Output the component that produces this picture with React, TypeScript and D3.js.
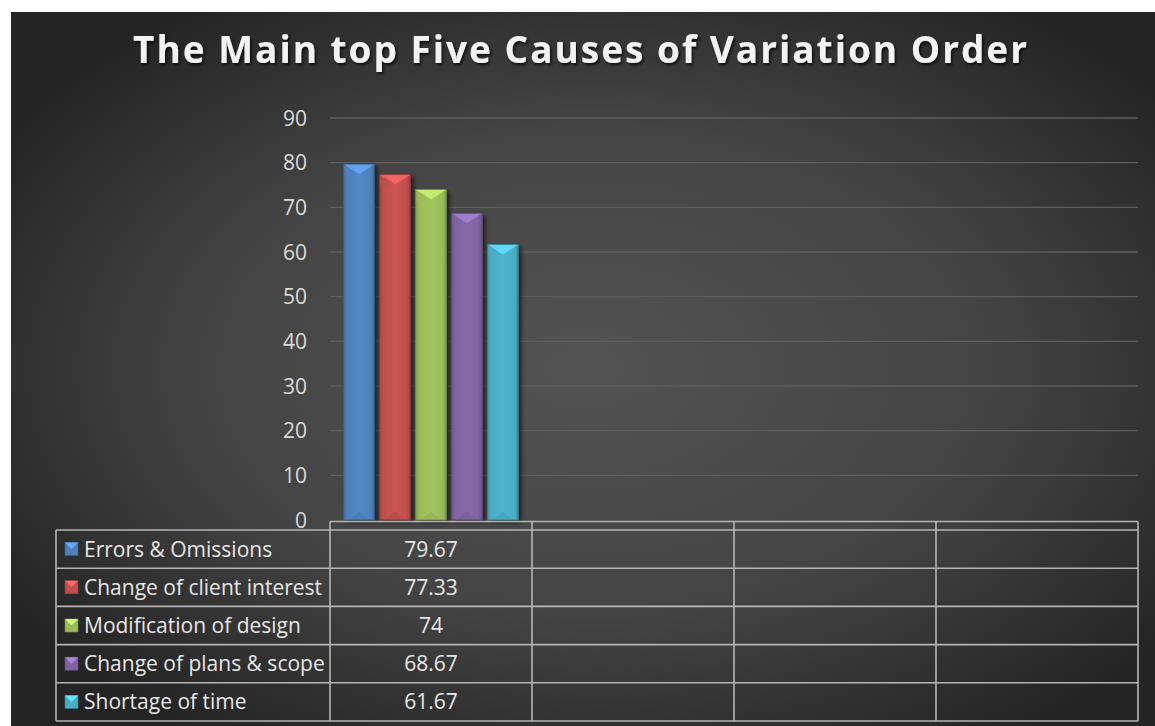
import React from "react";
import * as d3 from "d3";

const title = "The Main top Five Causes of Variation Order";
const categories = ["c1", "c2", "c3", "c4"];
const seriesNames = [
  "Errors & Omissions",
  "Change of client interest",
  "Modification of design",
  "Change of plans & scope",
  "Shortage of time",
];
const seriesValues = [79.67, 77.33, 74, 68.67, 61.67];
const valueLabels = ["79.67", "77.33", "74", "68.67", "61.67"];
const seriesColors = ["#4f81bd", "#c0504d", "#9bbb59", "#8064a2", "#4bacc6"];
const yTicks = [0, 10, 20, 30, 40, 50, 60, 70, 80, 90];

const W = 1155;
const H = 726;
const plotL = 330;
const plotR = 1138;
const plotT = 118;
const plotB = 520;
const tableL = 56;
const tableTop = 530;
const rowH = 38.2;

export default function App() {
  const x0 = d3.scaleBand<string>().domain(categories).range([plotL, plotR]).paddingInner(0).paddingOuter(0);
  const x1 = d3
    .scaleBand<string>()
    .domain(seriesNames)
    .range([0, x0.bandwidth()])
    .paddingInner(0.14)
    .paddingOuter(0.38);
  const y = d3.scaleLinear().domain([0, 90]).range([plotB, plotT]);
  const bw = x1.bandwidth();

  const shade = (c: string, k: number) => d3.color(c)!.darker(k).formatHex();
  const light = (c: string, k: number) => d3.color(c)!.brighter(k).formatHex();

  return (
    <>
      <style>{`html,body{margin:0;padding:0;overflow:hidden;background:#fff}`}</style>
      <svg
        width={W}
        height={H}
        style={{ display: "block", background: "#fff", position: "fixed", left: 0, top: 0 }}
      >
        <defs>
          <radialGradient id="bg" cx="0.52" cy="0.5" r="0.62" fx="0.5" fy="0.5">
            <stop offset="0" stopColor="#535353" />
            <stop offset="0.55" stopColor="#444444" />
            <stop offset="1" stopColor="#242424" />
          </radialGradient>
          <filter id="tshadow" x="-5%" y="-20%" width="110%" height="150%">
            <feDropShadow dx="1.5" dy="2" stdDeviation="1.5" floodColor="#000" floodOpacity="0.75" />
          </filter>
          <filter id="bshadow" x="-30%" y="-5%" width="160%" height="110%">
            <feDropShadow dx="3" dy="2" stdDeviation="2" floodColor="#000" floodOpacity="0.6" />
          </filter>
          {seriesColors.map((c, i) => (
            <linearGradient key={i} id={`bar${i}`} x1="0" x2="1" y1="0" y2="0">
              <stop offset="0" stopColor={shade(c, 0.5)} />
              <stop offset="0.12" stopColor={c} />
              <stop offset="0.5" stopColor={light(c, 0.15)} />
              <stop offset="0.88" stopColor={c} />
              <stop offset="1" stopColor={shade(c, 0.6)} />
            </linearGradient>
          ))}
        </defs>
        <rect x={11} y={12} width={W - 11} height={H - 12} fill="url(#bg)" />

        <text
          x={580}
          y={63}
          textAnchor="middle"
          fontFamily="'Open Sans', sans-serif"
          fontWeight={700}
          fontSize={37}
          fill="#f2f2f2"
          textLength={894}
          lengthAdjust="spacing"
          filter="url(#tshadow)"
        >
          {title}
        </text>

        {yTicks.map((t) => (
          <g key={t}>
            {t > 0 && <line x1={plotL} x2={plotR} y1={y(t)} y2={y(t)} stroke="#5e5e5e" strokeWidth={1.3} />}
            <text
              x={307}
              y={y(t) + 7.5}
              textAnchor="end"
              fontFamily="'Open Sans', sans-serif"
              fontSize={21}
              fill="#d9d9d9"
            >
              {t}
            </text>
          </g>
        ))}

        {seriesNames.map((s, i) => {
          const bx = (x0(categories[0]) as number) + (x1(s) as number);
          const top = y(seriesValues[i]);
          const h = plotB - top;
          const c = seriesColors[i];
          const bev = Math.min(10, h / 2);
          return (
            <g key={s}>
              <rect x={bx} y={top} width={bw} height={h} fill={`url(#bar${i})`} filter="url(#bshadow)" />
              <polygon
                points={`${bx},${top} ${bx + bw},${top} ${bx + bw / 2},${top + bev}`}
                fill={light(c, 0.7)}
                opacity={0.9}
              />
              <polygon
                points={`${bx},${top} ${bx + bw / 2},${top + bev} ${bx},${top + bev * 1.2}`}
                fill={c}
                opacity={0.5}
              />
              <polygon
                points={`${bx + 4},${plotB} ${bx + bw - 4},${plotB} ${bx + bw / 2},${plotB - 8}`}
                fill={shade(c, 0.25)}
                opacity={0.6}
              />
              <rect x={bx} y={top} width={bw} height={h} fill="none" stroke={shade(c, 0.9)} strokeWidth={0.8} />
            </g>
          );
        })}

        <g stroke="#b5b5b5" strokeWidth={1.6} fill="none">
          <line x1={plotL} x2={plotR} y1={plotB + 1.5} y2={plotB + 1.5} />
          {d3.range(seriesNames.length + 1).map((r) => (
            <line key={r} x1={tableL} x2={plotR} y1={tableTop + r * rowH} y2={tableTop + r * rowH} />
          ))}
          <line x1={tableL} x2={tableL} y1={tableTop} y2={tableTop + seriesNames.length * rowH} />
          {categories.map((c) => (
            <line
              key={c}
              x1={x0(c) as number}
              x2={x0(c) as number}
              y1={plotB + 1.5}
              y2={tableTop + seriesNames.length * rowH}
            />
          ))}
          <line x1={plotR} x2={plotR} y1={plotB + 1.5} y2={tableTop + seriesNames.length * rowH} />
        </g>
        {seriesNames.map((s, i) => {
          const cy = tableTop + i * rowH + rowH / 2;
          const c = seriesColors[i];
          const kx = 65;
          const ks = 13;
          return (
            <g key={s}>
              <rect x={kx} y={cy - ks / 2} width={ks} height={ks} fill={c} stroke={shade(c, 0.8)} strokeWidth={0.6} />
              <polygon
                points={`${kx},${cy - ks / 2} ${kx + ks},${cy - ks / 2} ${kx + ks / 2},${cy}`}
                fill={light(c, 0.8)}
              />
              <text x={84} y={cy + 7.5} fontFamily="'Open Sans', sans-serif" fontSize={21} fill="#e6e6e6">
                {s}
              </text>
              <text
                x={(x0(categories[0]) as number) + x0.bandwidth() / 2}
                y={cy + 7.5}
                textAnchor="middle"
                fontFamily="'Open Sans', sans-serif"
                fontSize={21}
                fill="#e6e6e6"
              >
                {valueLabels[i]}
              </text>
            </g>
          );
        })}
      </svg>
    </>
  );
}
